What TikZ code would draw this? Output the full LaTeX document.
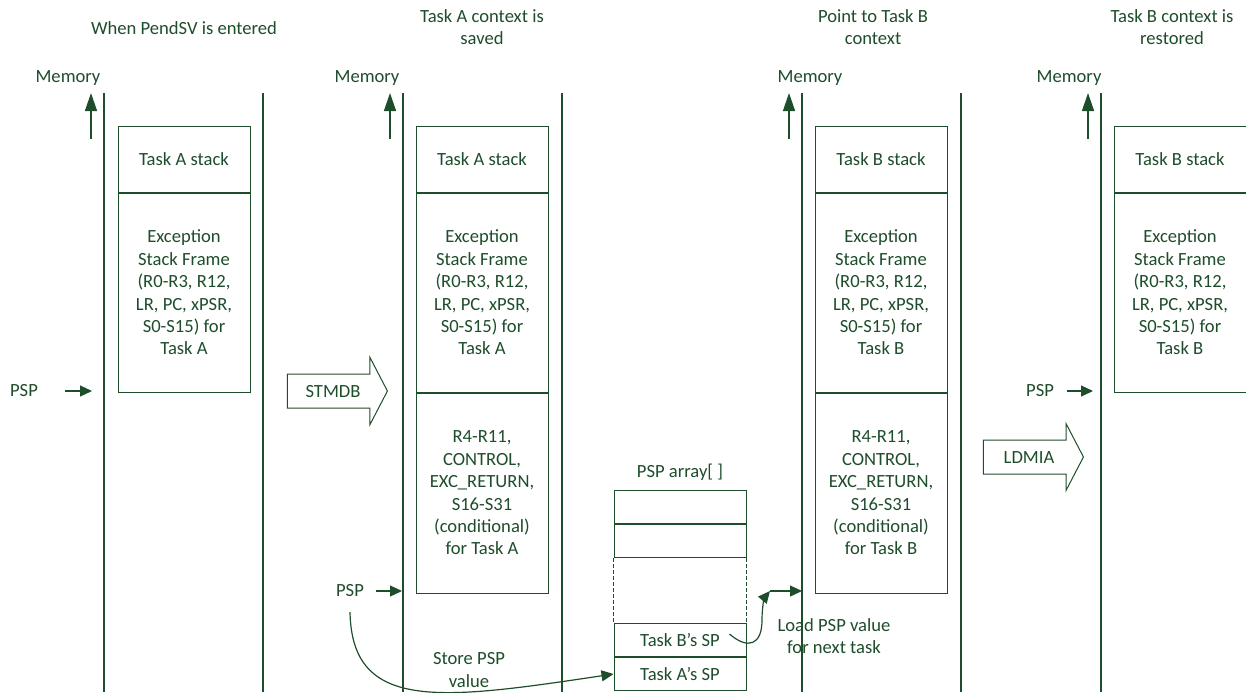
\documentclass[tikz,border=0pt]{standalone}
\usepackage{fontspec}
\setmainfont{Carlito}
\usetikzlibrary{shapes.arrows,arrows.meta,positioning,calc}
\definecolor{ink}{HTML}{1E4D2B}

\newcommand\esftext[1]{Exception\\Stack Frame\\(R0-R3, R12,\\LR, PC, xPSR,\\S0-S15) for\\Task #1}
\newcommand\swtext[1]{R4-R11,\\CONTROL,\\EXC\_RETURN,\\S16-S31\\(conditional)\\for Task #1}

\begin{document}
\begin{tikzpicture}[
  x=0.5pt, y=-0.5pt, font=\fontsize{9.3}{11.2}\selectfont, color=ink,
  wall/.style={line width=0.65pt},
  cell/.style={draw, line width=0.5pt, minimum width=66pt, inner sep=0pt, align=center},
  memup/.style={-{Triangle[length=9pt, width=6pt]}, line width=0.7pt},
  ptr/.style={-{Triangle[length=6pt, width=5.5pt]}, line width=0.6pt},
  op/.style={single arrow, draw, line width=0.5pt, minimum height=50pt,
             single arrow head extend=8.25pt, single arrow tip angle=125,
             text height=6.5pt, text depth=0pt, inner ysep=5pt, inner xsep=2pt},
  caption/.style={align=center},
]
\useasboundingbox (0,0) rectangle (1246,692);

% ---- memory walls, each with its growth arrow ----
\foreach \wx/\mx/\n in {104/68/1, 403/367/2, 802/810/3, 1101/1069/4} {
  \coordinate (w\n) at (\wx,391);
  \draw[wall] (\wx,93) -- (\wx,692);
  \draw[memup] (\wx-13,139) -- (\wx-13,93);
  \node (mem\n) at (\mx,78) {Memory};
}
\foreach \wx in {263, 562, 961}
  \draw[wall] (\wx,93) -- (\wx,692);

% ---- step captions ----
\node[caption] (h1) at (184,28) {When PendSV is entered};
\node[caption] (h2) at (482,27) {Task A context is\\saved};
\node[caption] (h3) at (873,27) {Point to Task B\\context};
\node[caption] (h4) at (1172,27) {Task B context is\\restored};

% ---- stacks ----
\node[cell, minimum height=33pt] (a1top) at (184,159) {Task A stack};
\node[cell, minimum height=99.5pt, below=0pt of a1top] (a1esf) {\esftext{A}};

\node[cell, minimum height=33pt] (a2top) at (482,159) {Task A stack};
\node[cell, minimum height=99.5pt, below=0pt of a2top] (a2esf) {\esftext{A}};
\node[cell, minimum height=100pt, below=0pt of a2esf] (a2sw) {\swtext{A}};

\node[cell, minimum height=33pt] (b3top) at (881,159) {Task B stack};
\node[cell, minimum height=99.5pt, below=0pt of b3top] (b3esf) {\esftext{B}};
\node[cell, minimum height=100pt, below=0pt of b3esf] (b3sw) {\swtext{B}};

\node[cell, minimum height=33pt] (b4top) at (1180,159) {Task B stack};
\node[cell, minimum height=99.5pt, below=0pt of b4top] (b4esf) {\esftext{B}};

% ---- PSP pointers ----
\node (psp1) at (24,391) {PSP};
\draw[ptr] ([xshift=10pt]psp1.east) -- ([xshift=-6pt]w1);
\node (psp2) at (350,591) {PSP};
\draw[ptr] ([xshift=2.5pt]psp2.east) -- ([xshift=-0.5pt]psp2.east -| w2);
\node (psp4) at (1040,391) {PSP};
\draw[ptr] ([xshift=3pt]psp4.east) -- ([xshift=-4pt]w4);

% ---- save / restore operations ----
\node[op] (stmdb) at (333,391) {STMDB};
\node[op] (ldmia) at (1029,457) {LDMIA};

% ---- PSP array ----
\node (arrtitle) at (680,472) {PSP array[ ]};
\node[cell, minimum height=16.5pt] (slot1) at (680,507) {};
\node[cell, minimum height=16.5pt, below=0pt of slot1] (slot2) {};
\node[cell, minimum height=16.5pt] (bsp) at (680,640) {Task B’s SP};
\node[cell, minimum height=16.5pt, below=0pt of bsp] (asp) {Task A’s SP};
\draw[line width=0.5pt, dash pattern=on 1.8pt off 1.2pt]
  (slot2.south west) -- (bsp.north west) (slot2.south east) -- (bsp.north east);

% ---- store PSP of task A ----
\draw[ptr] ([yshift=-4pt]psp2.south) .. controls (352,712) and (440,700) .. (asp.west);
\node[caption] (storelbl) at (469,670) {Store PSP\\value};

% ---- load PSP of task B ----
\coordinate (ldtip) at (770,591);
\draw[ptr] ([shift={(-8.5pt,3pt)}]bsp.east) .. controls (748,650) and (762,645) .. (762,620)
  .. controls (762,605) and (765,597) .. (ldtip);
\draw[ptr] (ldtip) -- (ldtip -| w3);
\node[caption] (loadlbl) at (834,636) {Load PSP value\\for next task};
\end{tikzpicture}
\end{document}
